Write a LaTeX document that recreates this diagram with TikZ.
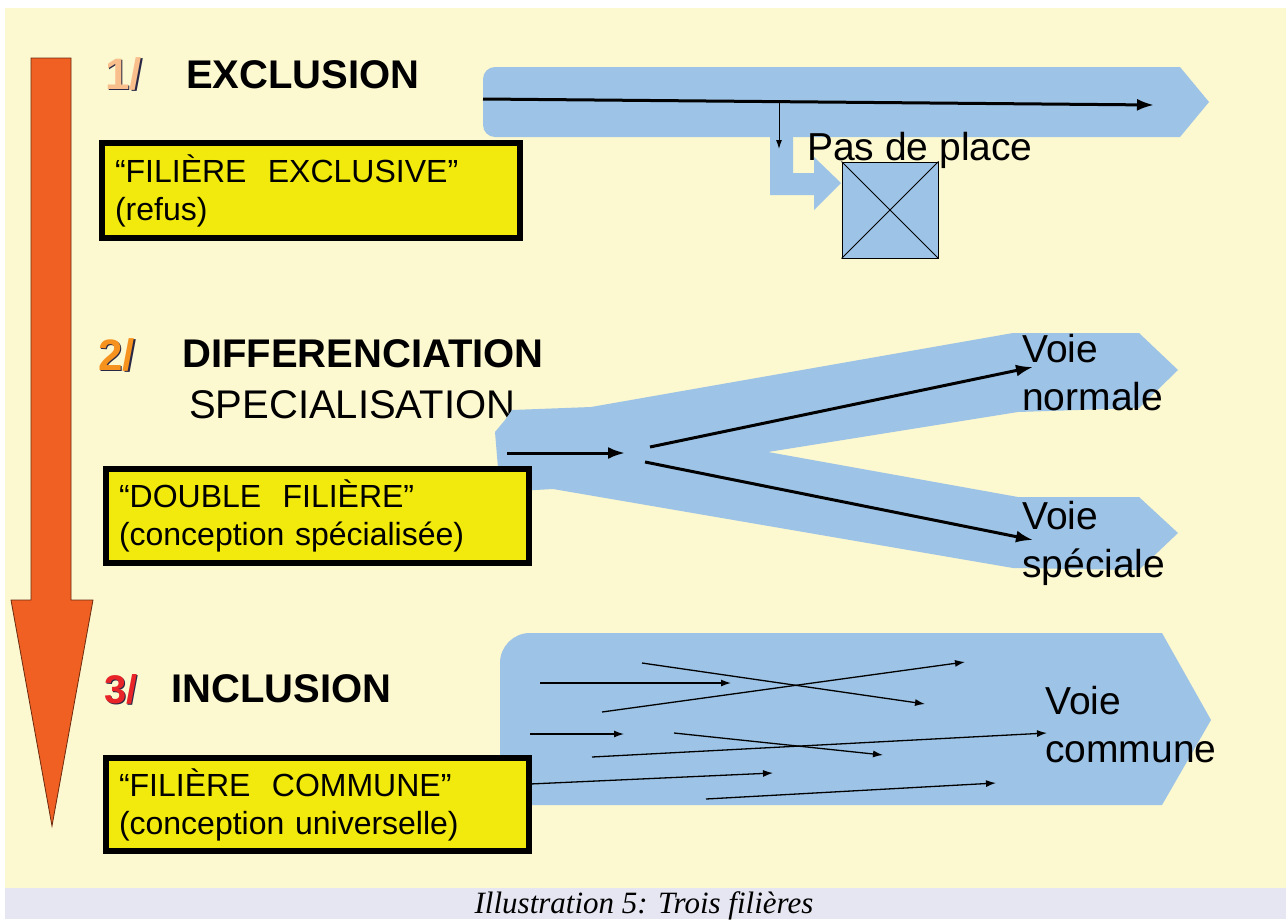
\documentclass[tikz,border=0pt]{standalone}
\usepackage{fontspec}
\usetikzlibrary{arrows.meta}
\setmainfont{Liberation Sans}
\newfontfamily\captionfont{Liberation Serif}
\definecolor{cream}{RGB}{252,248,208}
\definecolor{band}{RGB}{230,230,242}
\definecolor{lane}{RGB}{157,195,230}
\definecolor{filyellow}{RGB}{242,234,12}
\definecolor{arrorange}{RGB}{240,96,34}
\definecolor{numpeach}{RGB}{248,190,140}
\definecolor{numorange}{RGB}{246,146,30}
\definecolor{numred}{RGB}{232,36,40}
\definecolor{numshadow}{RGB}{40,40,70}
\tikzset{
  filbox/.style={draw=black,line width=6pt,fill=filyellow,anchor=north west,
    inner xsep=13pt,inner ysep=0pt,align=left,font=\fontsize{32}{38}\selectfont},
  heading/.style={anchor=base west,inner sep=0pt,font=\fontsize{40}{48}\selectfont\bfseries},
  numlabel/.style={anchor=base west,inner sep=0pt,font=\fontsize{44}{48}\selectfont\bfseries},
  lanetext/.style={anchor=base west,inner sep=0pt,align=left,font=\fontsize{39}{48}\selectfont},
  flow/.style={line width=3pt,-{Latex[length=17pt,width=12pt]}},
  thinflow/.style={line width=1.3pt,-{Latex[length=10pt,width=7pt]}},
}
\begin{document}
\begin{tikzpicture}[x=1pt,y=-1pt]
\useasboundingbox (0,0) rectangle (1286,919);
\fill[white] (0,0) rectangle (1286,919);
\fill[cream] (5,8) rectangle (1286,888);
\fill[band] (5,888) rectangle (1286,919);

% orange arrow
\draw[fill=arrorange,draw=arrorange!45!black,line width=0.8pt]
  (31,58) -- (71,58) -- (71,600) -- (93,600) -- (52,826) -- (11,600) -- (31,600) -- cycle;

% 1/ exclusion
\node[numlabel,text=numshadow] (n1s) at (106.5,90) {1/};
\node[numlabel,text=numpeach] (n1) at (105,89) {1/};
\node[heading] (excl) at (186,88) {EXCLUSION};
\node[filbox,minimum width=418,minimum height=95,text width=392] (box1) at (99,140)
  {“FILIÈRE\ \ EXCLUSIVE”\\(refus)};

\fill[lane] (1180,67) -- (1209,102) -- (1180,137) -- (495,137)
  arc[start angle=90,end angle=180,radius=12] -- (483,79)
  arc[start angle=180,end angle=270,radius=12] -- cycle;
\fill[lane] (770,137) -- (793,137) -- (793,173) -- (814,173) -- (814,157) -- (841,183)
  -- (814,210) -- (814,195) -- (770,195) -- cycle;
\node[draw,fill=lane,line width=1pt,minimum width=96,minimum height=96,inner sep=0pt] (noplace) at (890,210) {};
\draw[line width=0.8pt] (noplace.north west) -- (noplace.south east)
  (noplace.north east) -- (noplace.south west);
\node[lanetext] (pdp) at (807,160) {Pas de place};
\coordinate (ex-in) at (483,99);
\coordinate (ex-out) at (1154,105);
\coordinate (ex-drop) at (779,101);
\coordinate (ex-stop) at (779,149);
\draw[flow] (ex-in) -- (ex-out);
\draw[line width=1pt,-{Latex[length=9pt,width=6pt]}] (ex-drop) -- (ex-stop);

% 2/ differenciation
\node[numlabel,text=numshadow] (n2s) at (99.5,371) {2/};
\node[numlabel,text=numorange] (n2) at (98,370) {2/};
\node[heading] (diff) at (182,367) {DIFFERENCIATION};
\node[lanetext,font=\fontsize{40}{48}\selectfont] (spec) at (189,418) {SPECIALISATION};

\fill[lane] (495,432) -- (505,420) -- (512,410) -- (591,407) -- (1013,333) -- (1139,333)
  -- (1178,370) -- (1139,408) -- (1018,412) -- (768,452) -- (1018,497) -- (1139,497)
  -- (1178,533) -- (1139,570) -- (1013,568) -- (553,489) -- (500,492) -- cycle;
\node[filbox,minimum width=423,minimum height=94,text width=397] (box2) at (103,466)
  {“DOUBLE\ \ FILIÈRE”\\(conception spécialisée)};
\node[lanetext] (normale) at (1022,410) {Voie\\normale};
\node[lanetext] (speciale) at (1022,577) {Voie\\spéciale};
\coordinate (fork-in) at (507,453);
\coordinate (fork) at (625,453);
\coordinate (up-from) at (650,447);
\coordinate (up-to) at (1033,367);
\coordinate (down-from) at (645,462);
\coordinate (down-to) at (1033,540);
\draw[flow] (fork-in) -- (fork);
\draw[flow] (up-from) -- (up-to);
\draw[flow] (down-from) -- (down-to);

% 3/ inclusion
\node[numlabel,text=numshadow,font=\fontsize{40}{48}\selectfont\bfseries] (n3s) at (105.5,704) {3/};
\node[numlabel,text=numred,font=\fontsize{40}{48}\selectfont\bfseries] (n3) at (104,703) {3/};
\node[heading] (incl) at (171,702) {INCLUSION};

\fill[lane] (500,805) -- (500,663) arc[start angle=180,end angle=270,radius=30]
  -- (1162,633) -- (1211,720) -- (1162,805) -- cycle;
\foreach \a/\b/\c/\d in {540/683/731/683, 642/663/925/704, 602/712/965/662,
  530/734/624/734, 674/733/883/755, 592/757/1047/733, 530/784/773/773, 706/799/996/783}
  \draw[thinflow] (\a,\b) -- (\c,\d);
\node[filbox,minimum width=423,minimum height=93,text width=397] (box3) at (103,755)
  {“FILIÈRE\ \ COMMUNE”\\(conception universelle)};
\node[lanetext] (commune) at (1045,762) {Voie\\commune};

% caption
\node[anchor=base,inner sep=0pt,font=\captionfont\itshape\fontsize{31}{36}\selectfont] (cap)
  at (644,913) {Illustration 5: Trois filières};
\end{tikzpicture}
\end{document}
